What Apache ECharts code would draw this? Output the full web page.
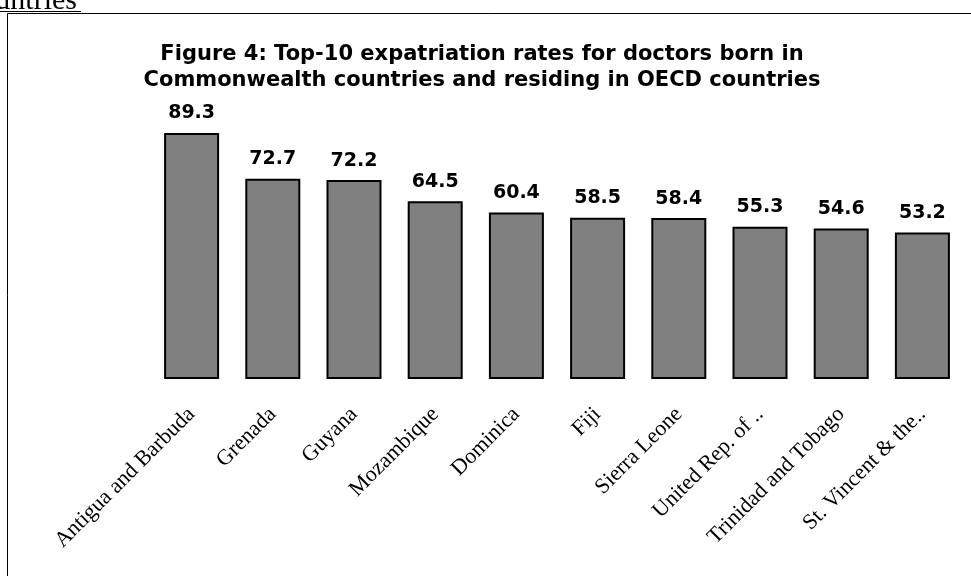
<!DOCTYPE html>
<html>
<head>
<meta charset="utf-8">
<script src="https://cdn.jsdelivr.net/npm/echarts@6/dist/echarts.min.js"></script>
<style>
  html, body { margin: 0; padding: 0; background: #fff; }
  #chart { width: 971px; height: 576px; }
</style>
</head>
<body>
<div id="chart"></div>
<script>
  // categories and values
  var countries = ['Antigua and Barbuda', 'Grenada', 'Guyana', 'Mozambique', 'Dominica',
    'Fiji', 'Sierra Leone', 'United Rep. of ..', 'Trinidad and Tobago', 'St. Vincent & the..'];
  var rates = [89.3, 72.7, 72.2, 64.5, 60.4, 58.5, 58.4, 55.3, 54.6, 53.2];

  var myChart = echarts.init(document.getElementById('chart'));
  myChart.setOption({
    backgroundColor: '#fff',
    animation: false,
    title: {
      text: 'Figure 4: Top-10 expatriation rates for doctors born in\nCommonwealth countries and residing in OECD countries',
      left: 477,
      top: 37,
      textAlign: 'center',
      textStyle: {
        fontFamily: 'DejaVu Sans',
        fontSize: 21,
        fontWeight: 'bold',
        color: '#000',
        lineHeight: 26
      }
    },
    graphic: [
      { // page frame
        type: 'rect',
        shape: { x: 7.5, y: 13.5, width: 966, height: 570 },
        style: { fill: 'none', stroke: '#000', lineWidth: 1 },
        silent: true
      },
      { // cut-off heading from the page above
        type: 'text',
        x: -33,
        y: 16,
        style: {
          text: 'countries',
          font: '30px "Liberation Serif"',
          fill: '#000',
          verticalAlign: 'bottom'
        }
      },
      {
        type: 'line',
        shape: { x1: 0, y1: 11.5, x2: 81, y2: 11.5 },
        style: { stroke: '#000', lineWidth: 1 }
      }
    ],
    grid: {
      left: 151,
      right: 8,
      top: 103.5,
      bottom: 197
    },
    xAxis: {
      type: 'category',
      data: countries,
      axisLine: { show: false },
      axisTick: { show: false },
      axisLabel: {
        rotate: 45,
        interval: 0,
        margin: 32,
        fontFamily: 'Liberation Serif',
        fontSize: 22,
        color: '#000'
      }
    },
    yAxis: {
      type: 'value',
      min: 0,
      max: 100,
      show: false,
      splitLine: { show: false }
    },
    series: [{
      type: 'bar',
      data: rates,
      barWidth: 55,
      itemStyle: {
        color: '#808080',
        borderColor: '#000',
        borderWidth: 2
      },
      label: {
        show: true,
        position: 'top',
        distance: 10,
        fontFamily: 'DejaVu Sans',
        fontSize: 19,
        fontWeight: 'bold',
        color: '#000',
        formatter: function (p) { return p.value.toFixed(1); }
      }
    }]
  });
</script>
</body>
</html>
